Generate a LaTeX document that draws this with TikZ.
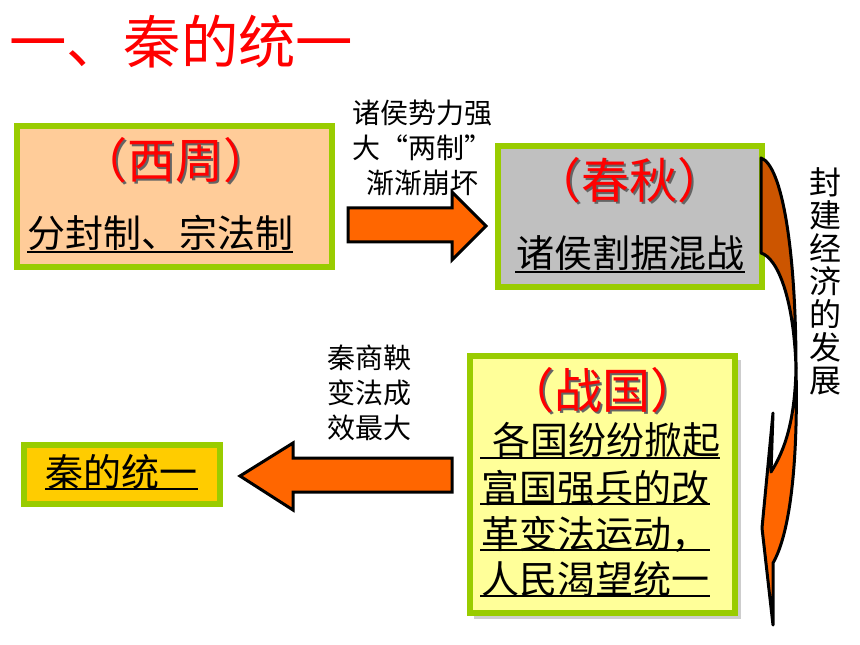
\documentclass[tikz,border=0pt]{standalone}
\usepackage{fontspec}
\newfontfamily\cjk{Noto Sans CJK SC}
\definecolor{boxgreen}{RGB}{153,204,0}
\definecolor{peach}{RGB}{255,204,153}
\definecolor{boxgray}{RGB}{192,192,192}
\definecolor{lightyellow}{RGB}{255,255,153}
\definecolor{gold}{RGB}{255,204,0}
\definecolor{arroworange}{RGB}{255,102,0}
\definecolor{darkorange}{RGB}{204,85,0}
\definecolor{titlered}{RGB}{255,0,0}
\definecolor{shadowgray}{RGB}{100,100,100}
\tikzset{
  box/.style={draw=boxgreen, line width=4.5pt, inner sep=0pt},
  blockarrow/.style={draw=black, line width=2.25pt, fill=arroworange, line join=miter},
  head/.style={text=titlered, font=\cjk\fontsize{36pt}{40pt}\selectfont, inner sep=0pt},
  headshadow/.style={text=shadowgray, font=\cjk\fontsize{36pt}{40pt}\selectfont, inner sep=0pt},
  body/.style={text=black, font=\cjk\fontsize{28.5pt}{34pt}\selectfont, inner sep=0pt},
  label/.style={text=black, font=\cjk\fontsize{21pt}{26pt}\selectfont, align=center, inner sep=0pt},
  ul/.style={draw=black, line width=1.5pt}
}
\begin{document}
\begin{tikzpicture}[x=0.75pt,y=-0.75pt]
\useasboundingbox (0,0) rectangle (860,645);
\fill[white] (0,0) rectangle (860,645);

% title
\node[anchor=west, text=titlered, font=\cjk\fontsize{43pt}{50pt}\selectfont, inner sep=0pt] (title) at (9,42) {一、秦的统一};

% box 1
\node[box, fill=peach, minimum width=236.25pt, minimum height=105.75pt] (xizhou) at (174.5,196.5) {};
\node[headshadow] at (177,162) {（西周）};
\node[head] (xizhouh) at (175,160) {（西周）};
\node[body] (xizhout) at (160,233) {分封制、宗法制};
\draw[ul] (27,252) -- (293,252);

% box 2
\node[box, fill=boxgray, minimum width=198pt, minimum height=105.75pt] (chunqiu) at (630,216.5) {};
\node[headshadow] at (631,182) {（春秋）};
\node[head] (chunqiuh) at (629,180) {（春秋）};
\node[body] (chunqiut) at (630,253) {诸侯割据混战};
\draw[ul] (515,272) -- (745,272);

% box 3 (with shadow)
\fill[boxgray!80] (474,360) rectangle (741,619);
\node[box, line width=4pt, fill=lightyellow, minimum width=198.75pt, minimum height=192.75pt] (zhanguo) at (602.5,484.5) {};
\node[headshadow] at (604,392) {（战国）};
\node[head] (zhanguoh) at (602,390) {（战国）};
\node[body, anchor=west] (z1) at (492,440) {各国纷纷掀起};
\node[body, anchor=west] (z2) at (481,488) {富国强兵的改};
\node[body, anchor=west] (z3) at (481,534) {革变法运动，};
\node[body, anchor=west] (z4) at (481,579) {人民渴望统一};
\draw[ul] (480,458) -- (720,458);
\draw[ul] (480,504) -- (710,504);
\draw[ul] (480,550) -- (710,550);
\draw[ul] (480,596) -- (710,596);

% box 4
\node[box, fill=gold, minimum width=147pt, minimum height=44.25pt] (qin) at (122,474.5) {};
\node[body] (qint) at (121,472) {秦的统一};
\draw[ul] (45,489) -- (198,489);

% right arrow
\draw[blockarrow] (348,208) -- (452,208) -- (452,192) -- (486,226) -- (452,260) -- (452,242) -- (348,242) -- cycle;
\node[label] (lab1) at (422,148) {诸侯势力强\\大“两制”\\渐渐崩坏};

% left arrow
\draw[blockarrow] (452,458) -- (293,458) -- (293,443) -- (240,476) -- (293,510) -- (293,492) -- (452,492) -- cycle;
\node[label] (lab2) at (369,393) {秦商鞅\\变法成\\效最大};

% curved arrow
\draw[line width=2.25pt, fill=darkorange, line join=round]
  (761,158) .. controls (782,165) and (796,250) .. (796,368)
  .. controls (794,300) and (778,258) .. (761,253) -- cycle;
\draw[line width=2.25pt, fill=arroworange, line join=round]
  (773,413) -- (771,472) .. controls (785,450) and (795,420) .. (796,368)
  .. controls (798,450) and (792,530) .. (773,563) -- (773,625) -- (762,528) -- cycle;
\node[text=black, font=\cjk\fontsize{24pt}{24.75pt}\selectfont, align=center, inner sep=0pt] (econ) at (825,281) {封\\建\\经\\济\\的\\发\\展};
\end{tikzpicture}
\end{document}
